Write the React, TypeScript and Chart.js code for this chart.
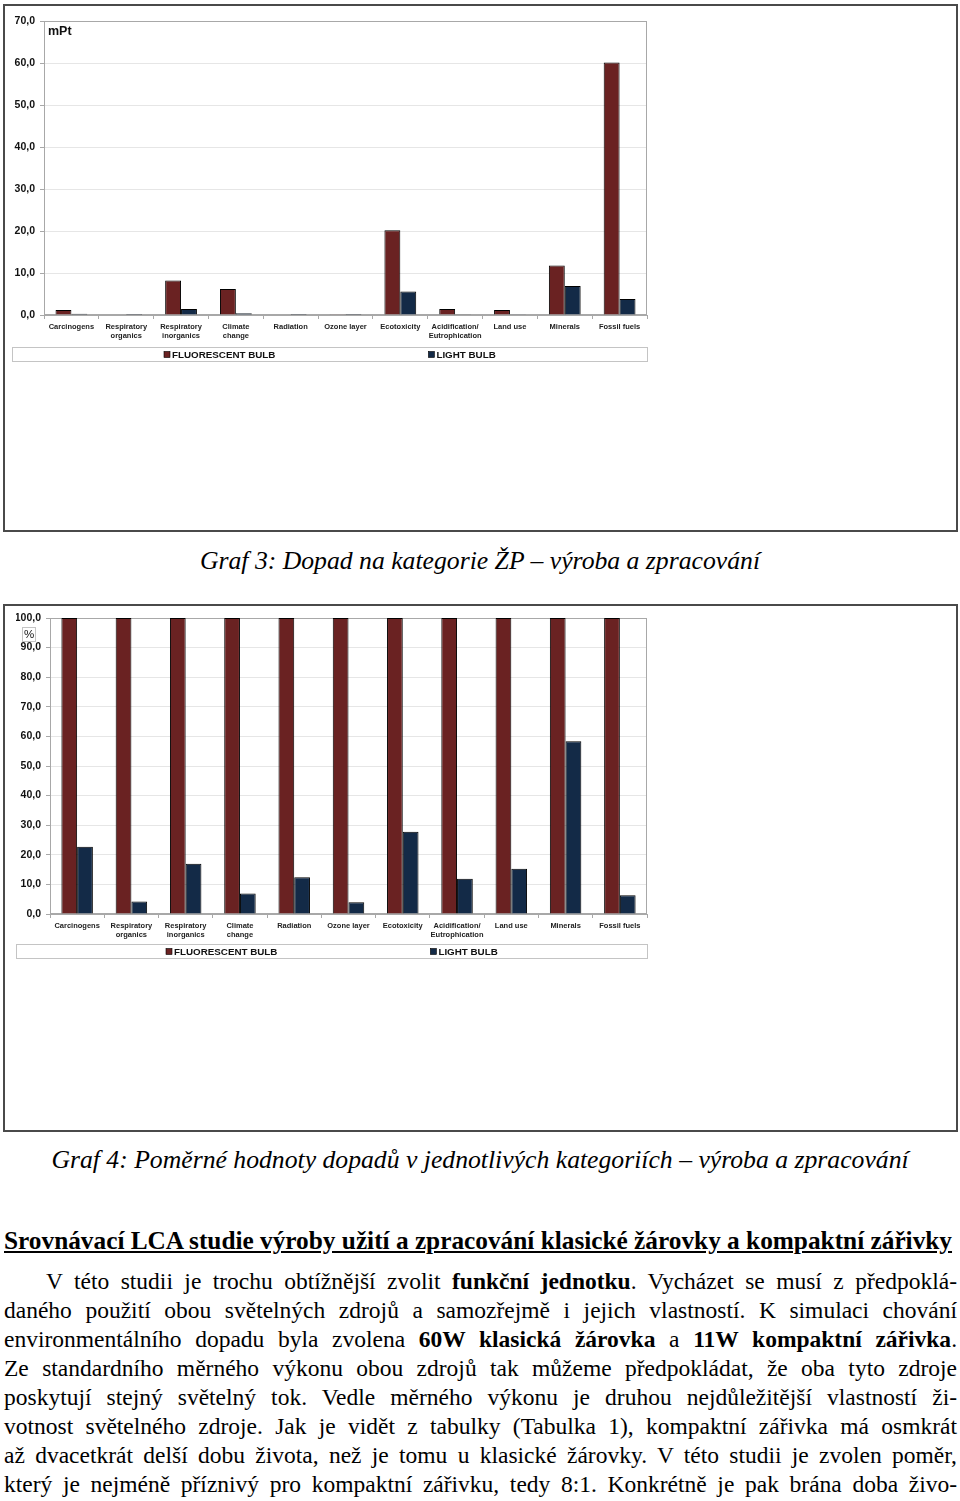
import React, { useEffect, useRef } from "react";
import { Chart, registerables } from "chart.js";

Chart.register(...registerables);

const categories: (string | string[])[] = [
  "Carcinogens",
  ["Respiratory", "organics"],
  ["Respiratory", "inorganics"],
  ["Climate", "change"],
  "Radiation",
  "Ozone layer",
  "Ecotoxicity",
  ["Acidification/", "Eutrophication"],
  "Land use",
  "Minerals",
  "Fossil fuels",
];

const seriesNames = ["FLUORESCENT BULB", "LIGHT BULB"];
const seriesColors = ["#6a2222", "#132a47"];

// Graf 3 – mPt
const fluorescentMPt = [1.2, 0.1, 8.2, 6.2, 0.1, 0.03, 20.2, 1.4, 1.2, 11.8, 60.1];
const lightMPt = [0.28, 0.004, 1.4, 0.43, 0.012, 0.001, 5.6, 0.17, 0.19, 6.9, 3.8];
const mptAxisMax = 70;

// Graf 4 – %
const fluorescentPct = [100, 100, 100, 100, 100, 100, 100, 100, 100, 100, 100];
const lightPct = [22.7, 4.2, 17.0, 6.9, 12.4, 4.0, 27.8, 11.9, 15.3, 58.4, 6.3];
const pctAxisMax = 100;

const axisStep = 10;

const SANS = 'Arial, "Liberation Sans", sans-serif';
const SERIF = '"Times New Roman", "Liberation Serif", serif';

const decorPlugin = {
  id: "decor",
  beforeDatasetsDraw(chart: any) {
    const { ctx, chartArea: a } = chart;
    ctx.save();
    ctx.strokeStyle = "#a8a8a8";
    ctx.lineWidth = 1;
    ctx.strokeRect(
      Math.round(a.left) + 0.5,
      Math.round(a.top) + 0.5,
      Math.round(a.right - a.left) - 1,
      Math.round(a.bottom - a.top) - 1
    );
    ctx.restore();
  },
  afterDraw(chart: any, _args: any, opts: any) {
    const { ctx, chartArea: a } = chart;
    ctx.save();
    // legend box
    const left = opts.legendLeft;
    const right = Math.round(a.right);
    const top = Math.round(a.bottom + opts.legendTop);
    const h = 14;
    ctx.strokeStyle = "#c4c4c4";
    ctx.lineWidth = 1;
    ctx.strokeRect(left + 0.5, top + 0.5, right - left, h);
    ctx.font = `bold 9.8px ${SANS}`;
    ctx.textBaseline = "middle";
    const gap = opts.legendGap;
    const ds = chart.data.datasets;
    const widths = ds.map((d: any) => 8 + ctx.measureText(d.label).width);
    const total = widths.reduce((s: number, w: number) => s + w, 0) + gap * (ds.length - 1);
    let x = Math.round((left + right) / 2 - total / 2);
    const cy = top + h / 2 + 0.5;
    ds.forEach((d: any, i: number) => {
      ctx.fillStyle = d.backgroundColor;
      ctx.fillRect(x, cy - 3, 6, 6);
      ctx.strokeStyle = "#000";
      ctx.lineWidth = 0.6;
      ctx.strokeRect(x, cy - 3, 6, 6);
      ctx.fillStyle = "#111";
      ctx.fillText(d.label, x + 8, cy + 0.5);
      x += widths[i] + gap;
    });
    // unit label
    if (opts.unit === "mPt") {
      ctx.font = `bold 12.5px ${SANS}`;
      ctx.fillStyle = "#111";
      ctx.textBaseline = "middle";
      ctx.fillText("mPt", a.left + 4, a.top + 11);
    } else if (opts.unit === "%") {
      const bx = Math.round(a.left) - 28;
      const by = Math.round(a.top) + 9;
      ctx.fillStyle = "#fff";
      ctx.fillRect(bx, by, 13, 14);
      ctx.strokeStyle = "#c4c4c4";
      ctx.lineWidth = 1;
      ctx.strokeRect(bx + 0.5, by + 0.5, 13, 14);
      ctx.font = `11.5px ${SANS}`;
      ctx.fillStyle = "#111";
      ctx.textAlign = "center";
      ctx.fillText("%", bx + 7, by + 8);
    }
    ctx.restore();
  },
};

type Cfg = {
  fluo: number[];
  light: number[];
  max: number;
  width: number;
  height: number;
  padLeft: number;
  padTop: number;
  yWidth: number;
  unit: string;
  legendTop: number;
};

function BarChart({ cfg }: { cfg: Cfg }) {
  const ref = useRef<HTMLCanvasElement | null>(null);
  useEffect(() => {
    if (!ref.current) return;
    const chart = new Chart(ref.current, {
      type: "bar",
      data: {
        labels: categories as any,
        datasets: [
          {
            label: seriesNames[0],
            data: cfg.fluo,
            backgroundColor: seriesColors[0],
            borderColor: "#000",
            borderWidth: 1,
            categoryPercentage: 0.58,
            barPercentage: 1,
          },
          {
            label: seriesNames[1],
            data: cfg.light,
            backgroundColor: seriesColors[1],
            borderColor: "#000",
            borderWidth: 1,
            categoryPercentage: 0.58,
            barPercentage: 1,
          },
        ],
      },
      options: {
        responsive: false,
        animation: false,
        devicePixelRatio: 1,
        layout: {
          padding: { left: cfg.padLeft, right: 5, top: cfg.padTop, bottom: 20 },
        },
        plugins: {
          legend: { display: false },
          tooltip: { enabled: false },
          decor: {
            legendLeft: cfg.padLeft,
            legendTop: cfg.legendTop,
            legendGap: 153,
            unit: cfg.unit,
          },
        } as any,
        scales: {
          x: {
            grid: {
              display: true,
              drawOnChartArea: false,
              drawTicks: true,
              tickLength: 4,
              tickColor: "#a8a8a8",
              offset: true,
            },
            border: { display: true, color: "#a8a8a8" },
            ticks: {
              color: "#222",
              font: { family: SANS, size: 7.5, weight: "bold", lineHeight: 1.2 },
              padding: 3,
              maxRotation: 0,
              minRotation: 0,
              autoSkip: false,
            },
            afterFit: (s: any) => {
              s.height = 30;
            },
          },
          y: {
            min: 0,
            max: cfg.max,
            ticks: {
              stepSize: axisStep,
              color: "#111",
              font: { family: SANS, size: 10.5, weight: "bold" },
              padding: 5,
              callback: (v: any) => Number(v).toFixed(1).replace(".", ","),
            },
            grid: {
              color: "#e6e6e6",
              tickColor: "#a8a8a8",
              tickLength: 4,
              drawTicks: true,
            },
            border: { display: true, color: "#a8a8a8" },
            afterFit: (s: any) => {
              s.width = cfg.yWidth;
            },
          },
        },
      },
      plugins: [decorPlugin as any],
    });
    return () => chart.destroy();
  }, []);
  return (
    <canvas
      ref={ref}
      width={cfg.width}
      height={cfg.height}
      style={{ position: "absolute", left: 0, top: 0, width: cfg.width, height: cfg.height }}
    />
  );
}

const boxStyle = (top: number): React.CSSProperties => ({
  position: "absolute",
  left: 3,
  top,
  width: 955,
  height: 528,
  boxSizing: "border-box",
  border: "2px solid #4a4a4a",
  background: "#fff",
});

const captionStyle = (top: number): React.CSSProperties => ({
  position: "absolute",
  left: 0,
  top,
  width: 960,
  textAlign: "center",
  fontFamily: SERIF,
  fontStyle: "italic",
  fontSize: 25.7,
  lineHeight: "30px",
  color: "#000",
  whiteSpace: "nowrap",
});

const lineStyle = (i: number, indent = 0): React.CSSProperties => ({
  position: "absolute",
  left: 4 + indent,
  top: 1267 + i * 29,
  width: 953 - indent,
  fontFamily: SERIF,
  fontSize: 23.5,
  lineHeight: "29px",
  textAlign: "justify",
  textAlignLast: "justify" as any,
  color: "#000",
});

export default function App() {
  useEffect(() => {
    document.body.style.margin = "0";
  }, []);
  const c1: Cfg = {
    fluo: fluorescentMPt,
    light: lightMPt,
    max: mptAxisMax,
    width: 647,
    height: 359,
    padLeft: 7,
    padTop: 15,
    yWidth: 32,
    unit: "mPt",
    legendTop: 32,
  };
  const c2: Cfg = {
    fluo: fluorescentPct,
    light: lightPct,
    max: pctAxisMax,
    width: 647,
    height: 358,
    padLeft: 11,
    padTop: 12,
    yWidth: 34,
    unit: "%",
    legendTop: 30,
  };
  return (
    <div style={{ position: "absolute", left: 0, top: 0, width: 960, height: 1501, background: "#fff" }}>
      <div style={boxStyle(4)}>
        <BarChart cfg={c1} />
      </div>
      <div style={captionStyle(546)}>Graf 3: Dopad na kategorie ŽP – výroba a zpracování</div>
      <div style={boxStyle(604)}>
        <BarChart cfg={c2} />
      </div>
      <div style={captionStyle(1145)}>
        Graf 4: Poměrné hodnoty dopadů v jednotlivých kategoriích – výroba a zpracování
      </div>
      <div
        style={{
          position: "absolute",
          left: 4,
          top: 1226,
          width: 956,
          fontFamily: SERIF,
          fontWeight: "bold",
          fontSize: 25.3,
          lineHeight: "28px",
          textDecoration: "underline",
          whiteSpace: "nowrap",
          color: "#000",
        }}
      >
        Srovnávací LCA studie výroby užití a zpracování klasické žárovky a kompaktní zářivky
      </div>
      <div style={lineStyle(0, 42)}>
        V této studii je trochu obtížnější zvolit <b>funkční jednotku</b>. Vycházet se musí z předpoklá-
      </div>
      <div style={lineStyle(1)}>
        daného použití obou světelných zdrojů a samozřejmě i jejich vlastností. K simulaci chování
      </div>
      <div style={lineStyle(2)}>
        environmentálního dopadu byla zvolena <b>60W klasická žárovka</b> a <b>11W kompaktní zářivka</b>.
      </div>
      <div style={lineStyle(3)}>
        Ze standardního měrného výkonu obou zdrojů tak můžeme předpokládat, že oba tyto zdroje
      </div>
      <div style={lineStyle(4)}>
        poskytují stejný světelný tok. Vedle měrného výkonu je druhou nejdůležitější vlastností ži-
      </div>
      <div style={lineStyle(5)}>
        votnost světelného zdroje. Jak je vidět z tabulky (Tabulka 1), kompaktní zářivka má osmkrát
      </div>
      <div style={lineStyle(6)}>
        až dvacetkrát delší dobu života, než je tomu u klasické žárovky. V této studii je zvolen poměr,
      </div>
      <div style={lineStyle(7)}>
        který je nejméně příznivý pro kompaktní zářivku, tedy 8:1. Konkrétně je pak brána doba živo-
      </div>
    </div>
  );
}
